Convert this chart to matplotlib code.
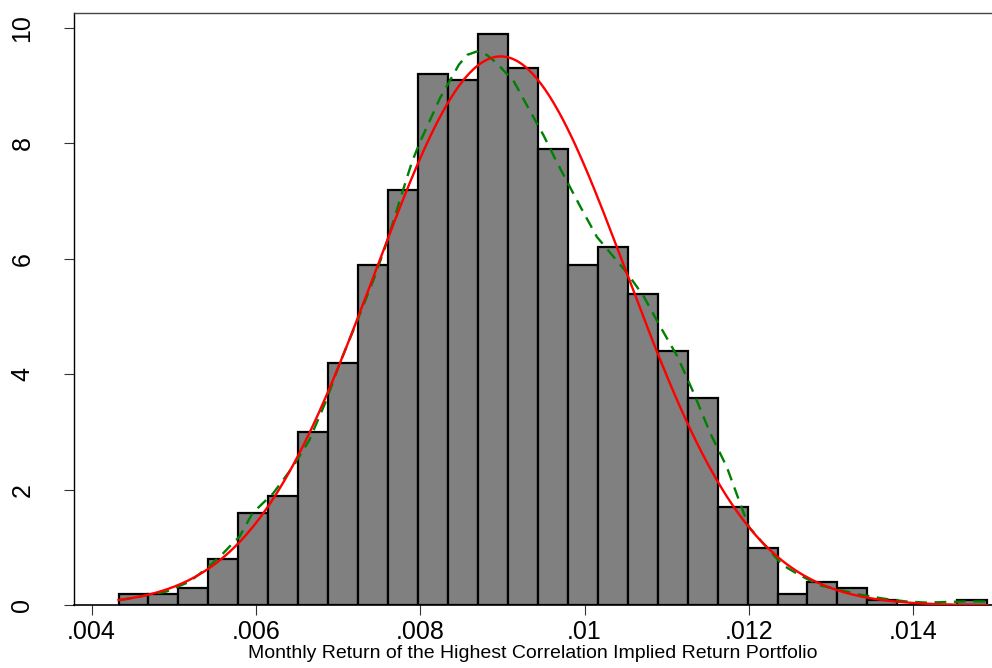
#!/usr/bin/env python3
"""Percent histogram with normal and kernel density overlays (Stata style)."""

import matplotlib
matplotlib.use("Agg")
import matplotlib.pyplot as plt
import numpy as np

plt.rcParams["font.family"] = ["Liberation Sans", "DejaVu Sans"]

# histogram: 29 equal bins, heights in percent
bin_start = 0.004329
bin_width = 0.0003645
percent = [0.2, 0.2, 0.3, 0.8, 1.6, 1.9, 3.0, 4.2, 5.9, 7.2,
           9.2, 9.1, 9.9, 9.3, 7.9, 5.9, 6.2, 5.4, 4.4, 3.6,
           1.7, 1.0, 0.2, 0.4, 0.3, 0.1, 0.0, 0.0, 0.1]

# fitted normal (mean / sd)
norm_mean = 0.00898
norm_sd = 0.00153

# kernel density (green dashed), percent scale
kde_x = [0.00434, 0.00491, 0.00519, 0.00540, 0.00560, 0.00568, 0.00580,
         0.00596, 0.00621, 0.00645, 0.00665, 0.00686, 0.00702, 0.00722,
         0.00743, 0.00759, 0.00774, 0.00790, 0.00800, 0.00824, 0.00847,
         0.00857, 0.00869, 0.00881, 0.00893, 0.00914, 0.00934, 0.00950,
         0.00966, 0.00995, 0.01015, 0.01035, 0.01052, 0.01072, 0.01092,
         0.01113, 0.01133, 0.01153, 0.01173, 0.01190, 0.01200, 0.01217,
         0.01241, 0.01261, 0.01286, 0.01310, 0.01334, 0.01363, 0.01391,
         0.01415, 0.01440, 0.01464, 0.01488]
kde_y = [0.09, 0.24, 0.41, 0.64, 0.90, 1.02, 1.19,
         1.60, 1.94, 2.40, 2.86, 3.56, 4.19, 4.88,
         5.63, 6.27, 6.96, 7.68, 8.03, 8.78, 9.36,
         9.53, 9.59, 9.53, 9.39, 9.07, 8.55, 8.14,
         7.68, 6.90, 6.38, 6.04, 5.75, 5.35, 4.83,
         4.31, 3.67, 2.98, 2.40, 1.74, 1.36, 1.08,
         0.70, 0.53, 0.35, 0.27, 0.19, 0.12, 0.07,
         0.05, 0.06, 0.07, 0.07]

xticks = [0.004, 0.006, 0.008, 0.010, 0.012, 0.014]
xtick_labels = [".004", ".006", ".008", ".01", ".012", ".014"]
yticks = [0, 2, 4, 6, 8, 10]
xlabel = "Monthly Return of the Highest Correlation Implied Return Portfolio"

n_bins = len(percent)
edges = bin_start + bin_width * np.arange(n_bins + 1)

fig = plt.figure(figsize=(9.92, 6.68), dpi=100)
ax = fig.add_axes([0.0746, 0.0936, 0.9254, 0.8873])

ax.bar(edges[:-1], percent, width=bin_width, align="edge",
       color="#808080", edgecolor="black", linewidth=1.6, zorder=2)

xs = np.linspace(edges[0], edges[-1], 400)
normal = 100 * bin_width * np.exp(-0.5 * ((xs - norm_mean) / norm_sd) ** 2) / (norm_sd * np.sqrt(2 * np.pi))
ax.plot(xs, normal, color="#ff0000", lw=1.7, zorder=4)
ax.plot(kde_x, kde_y, color="#008000", lw=1.7, ls=(0, (5, 3.2)), zorder=3)

ax.set_xlim(0.003787, 0.014958)
ax.set_ylim(0, 10.26)
ax.set_xticks(xticks)
ax.set_xticklabels(xtick_labels)
ax.set_yticks(yticks)
ax.set_yticklabels([str(v) for v in yticks], rotation=90, va="center")

ax.tick_params(axis="both", direction="out", length=7.5, width=0.8,
               color="#333333", labelsize=18)
ax.tick_params(axis="y", pad=21)
ax.tick_params(axis="x", pad=3)

ax.spines["right"].set_visible(False)
ax.spines["top"].set_color("#444444")
ax.spines["top"].set_linewidth(1.0)
ax.spines["left"].set_linewidth(1.0)
ax.spines["bottom"].set_linewidth(1.2)

ax.set_xlabel(xlabel, fontsize=14, labelpad=0.5)

fig.savefig("out.png", dpi=100)
